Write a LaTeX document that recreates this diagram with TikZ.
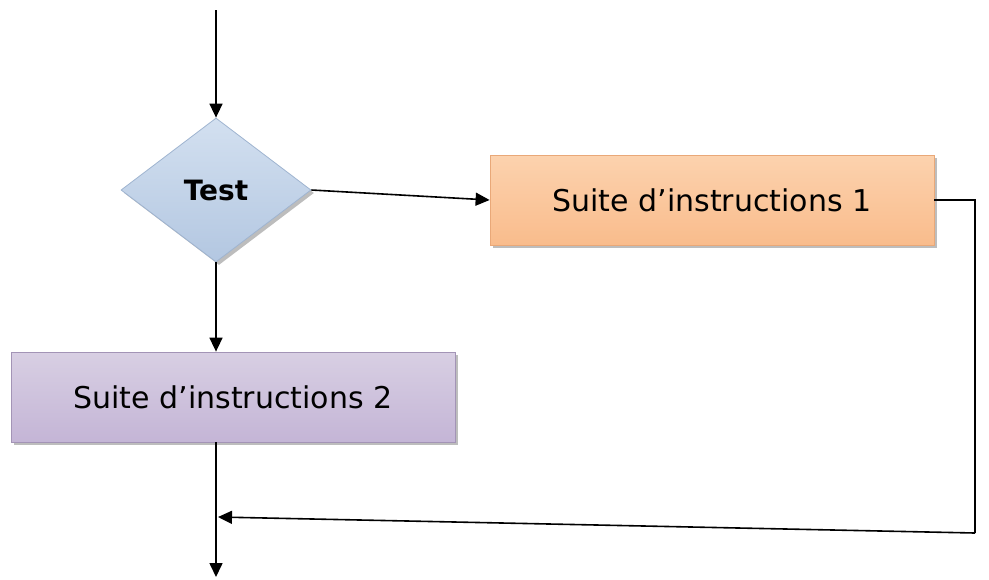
\documentclass[tikz,border=0pt]{standalone}
\usepackage{fontspec}
\setmainfont{DejaVu Sans}
\usetikzlibrary{shapes.geometric,arrows.meta,shadows}

\definecolor{bleuH}{HTML}{D3E0F0}
\definecolor{bleuB}{HTML}{B3C7E1}
\definecolor{bleuT}{HTML}{9FB4D0}
\definecolor{orangeH}{HTML}{FCD2AE}
\definecolor{orangeM}{HTML}{FDE8D6}
\definecolor{orangeB}{HTML}{F9BC8C}
\definecolor{orangeT}{HTML}{E9A878}
\definecolor{violetH}{HTML}{D8CFE3}
\definecolor{violetM}{HTML}{EEE9F3}
\definecolor{violetB}{HTML}{C4B5D6}
\definecolor{violetT}{HTML}{A394B6}

\tikzset{
  lien/.style={line width=0.8pt},
  fleche/.style={lien,-{Triangle[length=7pt,width=6.5pt]}},
  ombre/.style={drop shadow={shadow xshift=1.5pt,shadow yshift=-1.5pt,fill=gray!65,opacity=0.8}},
  testbox/.style={diamond,minimum width=95pt,minimum height=72pt,inner sep=0pt,
    top color=bleuH,bottom color=bleuB,draw=bleuT,line width=0.4pt,ombre,
    font=\fontsize{14}{17}\selectfont\bfseries},
  suitebox/.style={rectangle,minimum width=222pt,minimum height=45pt,inner sep=0pt,
    line width=0.4pt,ombre,font=\fontsize{15}{18}\selectfont},
}

\begin{document}
\begin{tikzpicture}[x=0.5pt,y=-0.5pt]
\useasboundingbox (0,0) rectangle (989,579);

% noeuds
\node[testbox] (test) at (216,190) {Test};
\node[suitebox,top color=orangeH,middle color=orangeM,bottom color=orangeB,draw=orangeT]
  (instr1) at (712,200) {Suite d’instructions 1};
\node[suitebox,top color=violetH,middle color=violetM,bottom color=violetB,draw=violetT]
  (instr2) at (233,397) {Suite d’instructions 2};

\coordinate (entree) at (216,10);
\coordinate (coin2) at (975,533);
\coordinate (jonction) at (218,517);
\coordinate (sortie) at (216,577);

% liens
\draw[fleche] (entree) -- (test.north);
\draw[fleche] (test.east) -- (instr1.west);
\draw[fleche] (test.south) -- (test.south |- instr2.north);
\draw[fleche] (test.south |- instr2.south) -- (sortie);
\draw[lien] (instr1.east) -- (instr1.east -| coin2) -- (coin2);
\draw[fleche] (coin2) -- (jonction);
\end{tikzpicture}
\end{document}
